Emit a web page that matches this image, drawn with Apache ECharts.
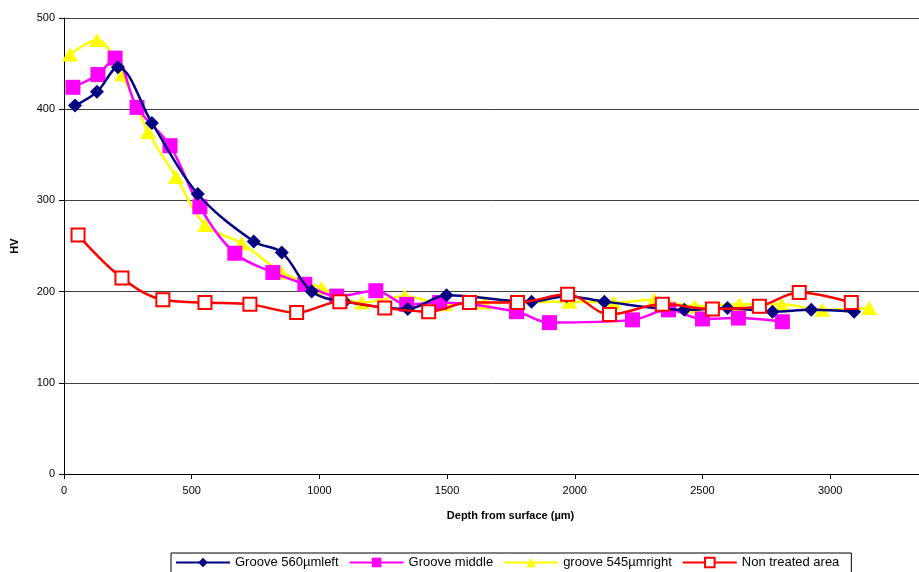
<!DOCTYPE html>
<html>
<head>
<meta charset="utf-8">
<script src="https://cdn.jsdelivr.net/npm/echarts@6/dist/echarts.min.js"></script>
<style>html,body{margin:0;padding:0;background:#fff;overflow:hidden}#c{width:919px;height:572px}</style>
</head>
<body>
<div id="c"></div>
<script>
// Depth (µm) and hardness (HV)
const leftX   = [43,129,211,344,524,743,853,970,1099,1346,1498,1831,1968,2116,2429,2598,2774,2926,3094];
const leftY   = [404,419,446,385,307,255,243,200,189,181,196,189,195,189,180,182,178,180,178];
const midX    = [35,133,200,286,415,532,669,818,943,1068,1221,1342,1471,1772,1901,2226,2367,2500,2641,2813];
const midY    = [424,438,456,402,360,293,242,221,208,195,201,186,188,178,166,169,180,170,171,167];
const rightX  = [23,129,227,329,438,552,696,853,1009,1166,1334,1490,1647,1979,2152,2312,2469,2645,2809,2969,3153];
const rightY  = [460,476,438,375,326,273,253,221,204,188,195,186,188,189,188,191,184,186,186,180,182];
const nonX    = [55,227,387,552,728,911,1080,1256,1428,1588,1776,1972,2136,2343,2539,2723,2879,3083];
const nonY    = [262,215,191,188,186,177,189,182,178,188,188,197,175,186,181,184,199,188];
const seriesNames = ['Groove 560µmleft','Groove middle','groove 545µmright','Non treated area'];

function pairs(xs, ys){ return xs.map((x,i)=>[x, ys[i]]); }

const font = 'Liberation Sans, Arial, sans-serif';
const chart = echarts.init(document.getElementById('c'), null, {renderer:'canvas'});
chart.setOption({
  backgroundColor:'#ffffff',
  animation:false,
  grid:{left:64, right:0, top:18, height:456, containLabel:false},
  xAxis:{
    type:'value', min:0, max:3348, interval:500,
    name:'Depth from surface (µm)', nameLocation:'middle', nameGap:36,
    nameTextStyle:{fontFamily:font, fontSize:11, fontWeight:'bold', color:'#000', padding:[0,0,0,38]},
    axisLine:{show:true, lineStyle:{color:'#000', width:1}},
    axisTick:{show:true, inside:false, length:5, lineStyle:{color:'#000'}},
    axisLabel:{fontFamily:font, fontSize:11, color:'#000', margin:11, showMaxLabel:false,
      formatter:v=>(v % 500 === 0 ? String(v) : '')},
    splitLine:{show:false}
  },
  yAxis:{
    type:'value', min:0, max:500, interval:100,
    name:'HV', nameLocation:'middle', nameGap:44, nameRotate:90,
    nameTextStyle:{fontFamily:font, fontSize:11, fontWeight:'bold', color:'#000'},
    axisLine:{show:true, lineStyle:{color:'#000', width:1}},
    axisTick:{show:true, inside:false, length:5, lineStyle:{color:'#000'}},
    axisLabel:{fontFamily:font, fontSize:11, color:'#000', margin:9, formatter:v=>String(v)},
    splitLine:{show:true, lineStyle:{color:'#404040', width:1}}
  },
  legend:{
    left:171, top:553, width:700,
    orient:'horizontal',
    borderColor:'#000', borderWidth:1, padding:[3,12,8,4],
    itemGap:10, itemWidth:54, itemHeight:12,
    textStyle:{fontFamily:font, fontSize:13, color:'#000'},
    data:seriesNames
  },
  series:[
    {name:seriesNames[0], type:'line', smooth:0.35, data:pairs(leftX,leftY),
     symbol:'diamond', symbolSize:14, itemStyle:{color:'#000080'}, lineStyle:{color:'#000080', width:2.5}, z:5},
    {name:seriesNames[1], type:'line', smooth:0.35, data:pairs(midX,midY),
     symbol:'rect', symbolSize:15, itemStyle:{color:'#ff00ff'}, lineStyle:{color:'#ff00ff', width:2.5}, z:4},
    {name:seriesNames[2], type:'line', smooth:0.35, data:pairs(rightX,rightY),
     symbol:'triangle', symbolSize:[16,14], itemStyle:{color:'#ffff00'}, lineStyle:{color:'#ffff00', width:2.5}, z:3},
    {name:seriesNames[3], type:'line', smooth:0.35, data:pairs(nonX,nonY),
     symbol:'rect', symbolSize:13, showAllSymbol:true,
     itemStyle:{color:'#ffffff', borderColor:'#ff0000', borderWidth:2},
     lineStyle:{color:'#ff0000', width:2.5}, z:6}
  ]
});
</script>
</body>
</html>
